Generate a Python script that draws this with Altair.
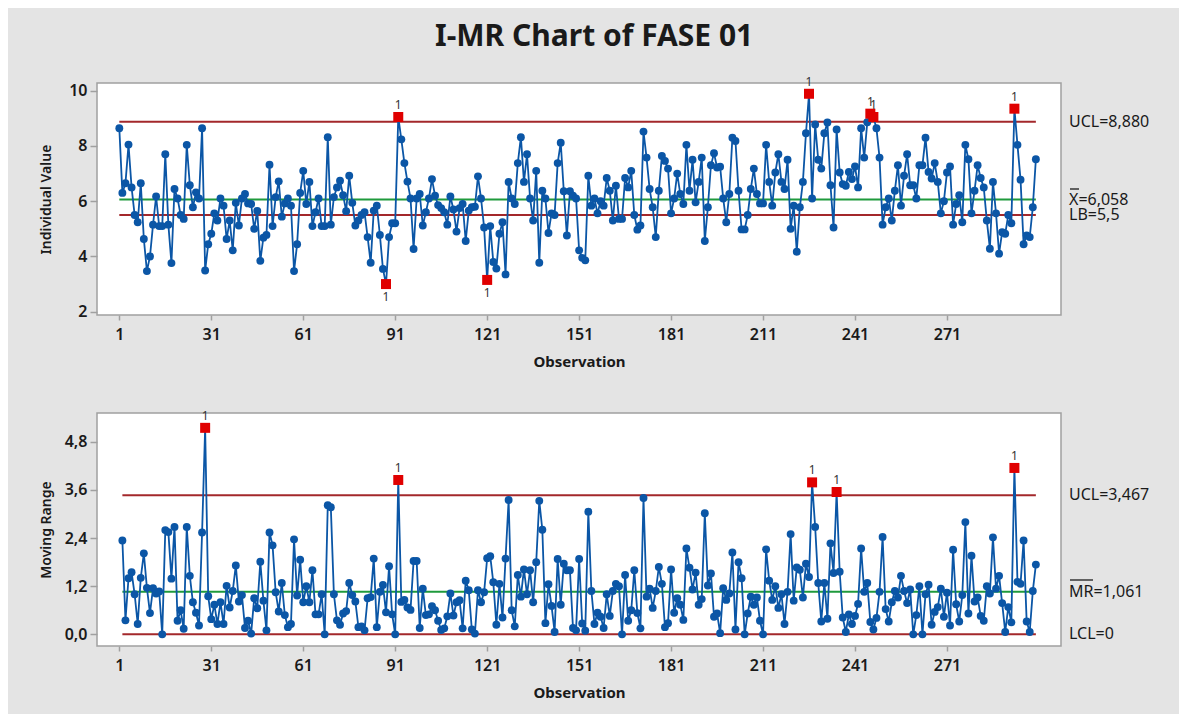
import altair as alt
import pandas as pd

# ---- Individual values of FASE 01 (observation order) ----
obs_001_029 = [8.64, 6.30, 6.65, 8.05, 6.50, 5.50, 5.24, 6.65, 4.63, 3.47, 4.00, 5.15, 6.17, 5.10, 5.10,
               7.70, 5.15, 3.76, 6.44, 6.10, 5.50, 5.36, 8.04, 6.58, 5.78, 6.32, 6.10, 8.64, 3.49]
obs_030_087 = [4.44, 4.82, 5.56, 5.30, 6.10, 5.84, 4.63, 5.30, 4.22, 5.94, 5.12, 6.10, 6.26, 5.92, 5.90,
               5.00, 5.65, 3.84, 4.68, 4.78, 7.32, 5.10, 6.15, 6.72, 5.44, 5.92, 6.10, 5.84, 3.47, 4.44,
               6.30, 7.10, 5.90, 6.70, 5.10, 5.60, 6.10, 5.10, 5.10, 8.32, 5.15, 6.15, 6.50, 6.74, 6.22,
               5.64, 6.92, 5.94, 5.12, 5.30, 5.50, 5.60, 4.70, 3.77, 5.66, 5.84, 4.78, 3.55]
obs_088_092 = [3.00, 4.70, 5.20, 5.20, 9.05]
obs_093_121 = [8.24, 7.38, 6.71, 6.10, 4.27, 6.10, 6.26, 5.12, 5.60, 6.10, 6.80, 6.20, 5.86, 5.75, 5.60,
               5.15, 6.17, 5.70, 4.90, 5.75, 5.90, 4.56, 5.66, 5.78, 5.80, 6.90, 6.10, 5.05, 3.15]
obs_122_155 = [5.10, 3.80, 3.56, 4.82, 5.24, 3.35, 6.70, 6.10, 5.90, 7.38, 8.32, 6.70, 7.70, 6.10, 5.30,
               7.10, 3.77, 6.38, 6.10, 4.85, 5.56, 5.50, 7.38, 8.12, 6.36, 4.76, 6.36, 6.20, 6.10, 4.22,
               3.95, 3.86, 6.92, 5.84]
obs_156_194 = [6.10, 5.56, 6.00, 5.84, 6.84, 6.38, 5.30, 6.56, 5.36, 5.36, 6.84, 6.50, 7.10, 5.50, 4.97,
               5.12, 8.52, 7.58, 6.44, 5.78, 4.70, 6.38, 7.64, 7.46, 7.18, 5.56, 6.10, 7.00, 6.26, 5.90,
               8.04, 6.38, 7.50, 5.96, 6.70, 7.58, 4.56, 5.78, 7.30]
obs_195_226 = [7.74, 7.22, 7.25, 6.10, 5.24, 6.26, 8.30, 8.18, 6.38, 4.98, 4.98, 5.50, 6.44, 7.18, 6.26,
               5.92, 5.92, 8.04, 6.70, 5.84, 7.04, 7.70, 6.70, 6.44, 7.50, 5.00, 5.84, 4.17, 5.78, 6.70,
               8.46, 9.89]
obs_227_247 = [6.10, 8.78, 7.50, 7.18, 8.46, 8.85, 6.58, 5.05, 8.60, 7.04, 6.62, 6.56, 7.06, 6.80, 7.26,
               6.50, 8.64, 7.58, 8.86, 9.17, 9.05]
obs_248_292 = [8.64, 7.58, 5.15, 5.78, 6.10, 5.30, 6.38, 7.30, 5.84, 6.92, 7.70, 6.58, 6.58, 6.10, 7.30,
               7.30, 8.30, 7.06, 6.82, 7.38, 6.70, 5.56, 6.00, 7.04, 7.26, 5.15, 5.90, 6.22, 5.24, 8.04,
               7.52, 5.56, 6.38, 7.30, 6.84, 6.50, 5.30, 4.28, 6.70, 5.56, 4.10, 4.88, 4.82, 5.50, 5.20]
obs_293_300 = [9.35, 8.04, 6.78, 4.44, 4.76, 4.70, 5.78, 7.52]

x_ticks = [1, 31, 61, 91, 121, 151, 181, 211, 241, 271]
top_ticks = [2, 4, 6, 8, 10]
mr_ticks = [0.0, 1.2, 2.4, 3.6, 4.8]

UCL_I, XBAR, LB, LCL_I = 8.880, 6.058, 5.5, 3.236
UCL_MR, MRBAR, LCL_MR = 3.467, 1.061, 0.0

individual = (obs_001_029 + obs_030_087 + obs_088_092 + obs_093_121 + obs_122_155 +
              obs_156_194 + obs_195_226 + obs_227_247 + obs_248_292 + obs_293_300)

df = pd.DataFrame({"obs": list(range(1, len(individual) + 1)), "value": individual})
df["mr"] = df["value"].diff().abs()
df["hi"] = df["value"] > UCL_I
df["lo"] = df["value"] < LCL_I
df["flag"] = df["hi"] | df["lo"]
df["mrflag"] = df["mr"] > UCL_MR
mr_df = df.dropna(subset=["mr"])

BLUE = "#0B56A6"
RED_PT = "#E00000"
LIM_RED = "#A3282B"
GREEN = "#1F9A3C"
FONT = "Noto Sans"
W = 964
H_TOP = 232
H_BOT = 233
N = len(individual)

X_SCALE = alt.Scale(domain=[-6.28, 308.2], nice=False, zero=False)
Y_TOP = alt.Scale(domain=[1.88, 10.28], nice=False, zero=False)
Y_BOT = alt.Scale(domain=[-0.29, 5.52], nice=False, zero=False)

x_axis = alt.Axis(values=x_ticks, title="Observation", grid=False, domain=False, tickSize=5,
                  tickColor="#A0A0A0", tickWidth=1.5, labelFontSize=16, labelFontWeight=600,
                  labelColor="#1a1a1a", labelPadding=6, labelFont=FONT, titleFont=FONT,
                  titleFontSize=15, titleFontWeight="bold", titleColor="#1a1a1a", titlePadding=12)
y_top_axis = alt.Axis(values=top_ticks, title="Individual Value", grid=False, domain=False, tickSize=7,
                      tickColor="#A0A0A0", tickWidth=1.5, labelFontSize=16, labelFontWeight=600,
                      labelColor="#1a1a1a", labelPadding=3, labelFont=FONT, titleFont=FONT,
                      titleFontSize=14, titleFontWeight=600, titleColor="#1a1a1a",
                      titleX=-44, titleY=H_TOP / 2)
y_bot_axis = alt.Axis(values=mr_ticks, title="Moving Range", grid=False, domain=False, tickSize=7,
                      tickColor="#A0A0A0", tickWidth=1.5, labelFontSize=16, labelFontWeight=600,
                      labelColor="#1a1a1a", labelPadding=3, labelFont=FONT, titleFont=FONT,
                      titleFontSize=14, titleFontWeight=600, titleColor="#1a1a1a",
                      titleX=-44, titleY=H_BOT / 2,
                      labelExpr="replace(format(datum.value, '.1f'), '.', ',')")


def xe(field):
    return alt.X(field, type="quantitative", scale=X_SCALE, axis=x_axis)


# ---------------- top: individuals ----------------
lim_top = pd.DataFrame({"y": [UCL_I, XBAR, LB], "c": [LIM_RED, GREEN, LIM_RED], "x1": [1] * 3, "x2": [N] * 3})
yt = lambda f: alt.Y(f, type="quantitative", scale=Y_TOP, axis=y_top_axis)

rules_top = alt.Chart(lim_top).mark_rule(strokeWidth=2).encode(
    x=xe("x1"), x2="x2", y=yt("y"), color=alt.Color("c:N", scale=None))
line_top = alt.Chart(df).mark_line(color=BLUE, strokeWidth=1.8).encode(x=xe("obs"), y=yt("value"))
pts_top = alt.Chart(df).transform_filter("!datum.flag").mark_circle(
    size=62, color=BLUE, opacity=1).encode(x=xe("obs"), y=yt("value"))
red_top = alt.Chart(df).transform_filter("datum.flag").mark_square(
    size=100, color=RED_PT, opacity=1).encode(x=xe("obs"), y=yt("value"))
lab_hi = alt.Chart(df).transform_filter("datum.hi").mark_text(
    text="1", dy=-12, fontSize=12, font=FONT, color="#333").encode(x=xe("obs"), y=yt("value"))
lab_lo = alt.Chart(df).transform_filter("datum.lo").mark_text(
    text="1", dy=13, fontSize=12, font=FONT, color="#333").encode(x=xe("obs"), y=yt("value"))

txt_top = pd.DataFrame({"y": [UCL_I, XBAR, LB], "t": ["UCL=8,880", "X=6,058", "LB=5,5"],
                        "dy": [0, -1, 2]})
right_top = alt.Chart(txt_top).mark_text(align="left", fontSize=16, font=FONT, color="#1a1a1a").encode(
    x=alt.value(W + 8), y=yt("y"), text="t:N", yOffset=alt.YOffset("dy:Q", scale=None))
bar_x = alt.Chart(pd.DataFrame({"k": [0]})).mark_rule(color="#1a1a1a", strokeWidth=1.3).encode(
    x=alt.value(W + 9), x2=alt.value(W + 18), y=alt.value(106))

top = alt.layer(rules_top, line_top, pts_top, red_top, lab_hi, lab_lo, right_top, bar_x).properties(
    width=W, height=H_TOP)

# ---------------- bottom: moving range ----------------
lim_bot = pd.DataFrame({"y": [UCL_MR, MRBAR, LCL_MR], "c": [LIM_RED, GREEN, LIM_RED],
                        "x1": [2] * 3, "x2": [N] * 3})
yb = lambda f: alt.Y(f, type="quantitative", scale=Y_BOT, axis=y_bot_axis)

rules_bot = alt.Chart(lim_bot).mark_rule(strokeWidth=2).encode(
    x=xe("x1"), x2="x2", y=yb("y"), color=alt.Color("c:N", scale=None))
line_bot = alt.Chart(mr_df).mark_line(color=BLUE, strokeWidth=1.8).encode(x=xe("obs"), y=yb("mr"))
pts_bot = alt.Chart(mr_df).transform_filter("!datum.mrflag").mark_circle(
    size=62, color=BLUE, opacity=1).encode(x=xe("obs"), y=yb("mr"))
red_bot = alt.Chart(mr_df).transform_filter("datum.mrflag").mark_square(
    size=100, color=RED_PT, opacity=1).encode(x=xe("obs"), y=yb("mr"))
lab_bot = alt.Chart(mr_df).transform_filter("datum.mrflag").mark_text(
    text="1", dy=-12, fontSize=12, font=FONT, color="#333").encode(x=xe("obs"), y=yb("mr"))

txt_bot = pd.DataFrame({"y": [UCL_MR, MRBAR, LCL_MR], "t": ["UCL=3,467", "MR=1,061", "LCL=0"]})
right_bot = alt.Chart(txt_bot).mark_text(align="left", fontSize=16, font=FONT, color="#1a1a1a").encode(
    x=alt.value(W + 8), y=yb("y"), text="t:N")
bar_mr = alt.Chart(pd.DataFrame({"k": [0]})).mark_rule(color="#1a1a1a", strokeWidth=1.3).encode(
    x=alt.value(W + 9), x2=alt.value(W + 32), y=alt.value(167))

bot = alt.layer(rules_bot, line_bot, pts_bot, red_bot, lab_bot, right_bot, bar_mr).properties(
    width=W, height=H_BOT)

chart = alt.vconcat(top, bot, spacing=39).properties(
    title=alt.TitleParams("I-MR Chart of FASE 01", fontSize=30, fontWeight="bold", font=FONT,
                          color="#1a1a1a", anchor="middle", offset=23),
    padding={"left": 30, "right": 29, "top": 14, "bottom": 13},
    background="#E4E4E4",
).configure_view(fill="white", stroke="#A0A0A0", strokeWidth=1.5)

chart.save("out.html", embed_options={"renderer": "svg", "actions": False})
